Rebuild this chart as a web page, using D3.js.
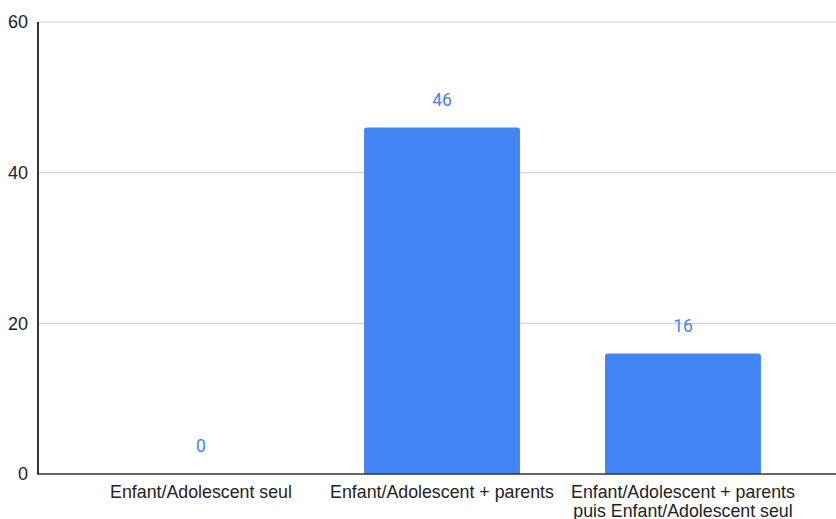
<!DOCTYPE html>
<html>
<head>
<meta charset="utf-8">
<script src="https://cdn.jsdelivr.net/npm/d3@7"></script>
<style>
  html, body { margin: 0; padding: 0; background: #fff; }
  svg { display: block; }
</style>
</head>
<body>
<svg id="chart" width="836" height="519"></svg>
<script>
// Categories (x-axis labels, multi-line where wrapped)
const categories = [
  "Enfant/Adolescent seul",
  "Enfant/Adolescent + parents",
  "Enfant/Adolescent + parents puis Enfant/Adolescent seul"
];
const categoryLines = [
  ["Enfant/Adolescent seul"],
  ["Enfant/Adolescent + parents"],
  ["Enfant/Adolescent + parents", "puis Enfant/Adolescent seul"]
];
const values = [0, 46, 16];
const yTicks = [0, 20, 40, 60];

const svg = d3.select("#chart");
const W = 836;
const plotLeft = 38, plotTop = 22, plotBottom = 474;

const x = d3.scaleBand()
  .domain(categories)
  .range([plotLeft, 846])
  .paddingInner(0.353)
  .paddingOuter(0.353);

const y = d3.scaleLinear().domain([0, 60]).range([plotBottom, plotTop]);

// horizontal gridlines
svg.append("g")
  .selectAll("line")
  .data(yTicks.filter(t => t > 0))
  .join("line")
  .attr("x1", plotLeft).attr("x2", W)
  .attr("y1", d => y(d)).attr("y2", d => y(d))
  .attr("stroke", "#cccccc").attr("stroke-width", 1);

// y tick labels
svg.append("g")
  .selectAll("text")
  .data(yTicks)
  .join("text")
  .attr("x", 28)
  .attr("y", d => y(d))
  .attr("dy", "0.35em")
  .attr("text-anchor", "end")
  .attr("font-family", "Arial, 'Liberation Sans', sans-serif")
  .attr("font-size", 18)
  .attr("fill", "#222")
  .text(d => d);

// bars with slightly rounded top corners
function barPath(x0, w, yTop, yBot, r) {
  const h = yBot - yTop;
  if (h <= 0) return "";
  r = Math.min(r, h, w / 2);
  return `M${x0},${yBot}V${yTop + r}Q${x0},${yTop} ${x0 + r},${yTop}` +
    `H${x0 + w - r}Q${x0 + w},${yTop} ${x0 + w},${yTop + r}V${yBot}Z`;
}

svg.append("g")
  .selectAll("path")
  .data(values)
  .join("path")
  .attr("d", (d, i) => barPath(x(categories[i]), x.bandwidth(), y(d), y(0), 3))
  .attr("fill", "#4285f4");

// value labels above bars
svg.append("g")
  .selectAll("text")
  .data(values)
  .join("text")
  .attr("x", (d, i) => x(categories[i]) + x.bandwidth() / 2)
  .attr("y", d => y(d) - 28)
  .attr("dy", "0.35em")
  .attr("text-anchor", "middle")
  .attr("font-family", "Roboto, Arial, sans-serif")
  .attr("font-size", 17.5)
  .attr("fill", "#4285f4")
  .text(d => d);

// axis lines
svg.append("line")
  .attr("x1", plotLeft).attr("x2", plotLeft)
  .attr("y1", plotTop).attr("y2", plotBottom)
  .attr("stroke", "#333").attr("stroke-width", 2);
svg.append("line")
  .attr("x1", plotLeft - 1).attr("x2", W)
  .attr("y1", plotBottom).attr("y2", plotBottom)
  .attr("stroke", "#333").attr("stroke-width", 1.5);

// x category labels
const xl = svg.append("g")
  .selectAll("text")
  .data(categoryLines)
  .join("text")
  .attr("text-anchor", "middle")
  .attr("font-family", "Arial, 'Liberation Sans', sans-serif")
  .attr("font-size", 17.8)
  .attr("fill", "#222");

xl.each(function(lines, i) {
  const cx = x(categories[i]) + x.bandwidth() / 2;
  d3.select(this).selectAll("tspan")
    .data(lines)
    .join("tspan")
    .attr("x", cx)
    .attr("y", (l, j) => 492 + j * 18.5)
    .attr("dy", "0.35em")
    .text(l => l);
});
</script>
</body>
</html>
